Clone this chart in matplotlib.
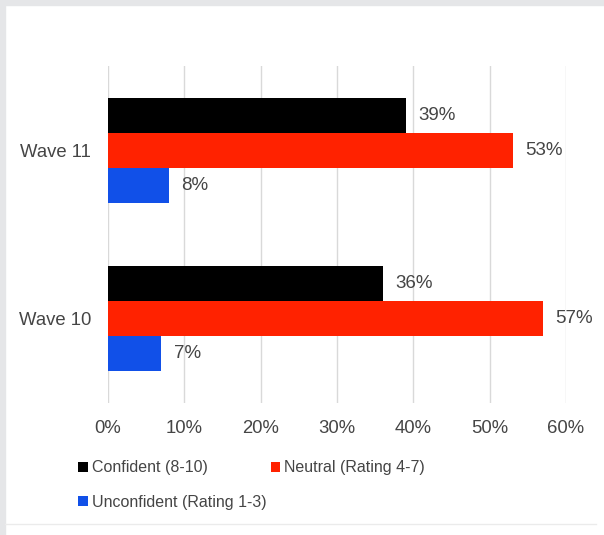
import matplotlib.pyplot as plt
import matplotlib.patches as mpatches
from matplotlib.lines import Line2D
import numpy as np

plt.rcParams["font.family"] = ["Liberation Sans", "DejaVu Sans"]

# Data
waves = ["Wave 10", "Wave 11"]
confident = [36, 39]
neutral = [57, 53]
unconfident = [7, 8]
series_names = ["Confident (8-10)", "Neutral (Rating 4-7)", "Unconfident (Rating 1-3)"]
x_ticks = [0, 10, 20, 30, 40, 50, 60]

COLORS = ["#000000", "#ff2200", "#1150e8"]
TEXT = "#454545"

fig = plt.figure(figsize=(6.04, 5.35), dpi=100)
W, H = 604, 535

# page border (gray strip left/top, faint line at bottom)
fig.patches.append(mpatches.Rectangle((0, 0), 5 / W, 1, transform=fig.transFigure,
                                      color="#e5e6e8", zorder=0))
fig.patches.append(mpatches.Rectangle((0, 1 - 5 / H), 1, 5 / H, transform=fig.transFigure,
                                      color="#e5e6e8", zorder=0))
fig.lines.append(Line2D([5 / W, 596 / W], [1 - 523.5 / H] * 2, transform=fig.transFigure,
                        color="#ebebeb", linewidth=1))

ax = fig.add_axes([108 / W, 1 - 403 / H, (566 - 108) / W, (403 - 66) / H])

y = np.arange(len(waves))
h = 0.207
for i, (vals, off) in enumerate(zip([confident, neutral, unconfident], [h, 0, -h])):
    bars = ax.barh(y + off, vals, height=h, color=COLORS[i], label=series_names[i], zorder=2)
    for b, v in zip(bars, vals):
        ax.text(v + 1.6, b.get_y() + h / 2, f"{v}%", va="center", ha="left",
                fontsize=13.5, color=TEXT)

ax.set_xlim(0, 60)
ax.set_ylim(-0.5, 1.5)
ax.set_xticks(x_ticks)
ax.set_xticklabels([f"{t}%" for t in x_ticks])
ax.set_yticks(y)
ax.set_yticklabels(waves)
ax.tick_params(length=0, labelsize=13.3, labelcolor=TEXT)
ax.tick_params(axis="x", pad=12)
ax.tick_params(axis="y", pad=12)
ax.grid(axis="x", color="#d9d9d9", linewidth=1, zorder=0)
for s in ax.spines.values():
    s.set_visible(False)

handles, labels = ax.get_legend_handles_labels()
order = [0, 2, 1]
fig.legend([handles[i] for i in order], [labels[i] for i in order],
           loc="upper left", bbox_to_anchor=(64 / W, 1 - 446 / H), ncol=2,
           frameon=False, fontsize=11.5, labelcolor=TEXT,
           handlelength=0.6, handleheight=0.6, handletextpad=0.25,
           columnspacing=0.25, labelspacing=1.2)

fig.savefig("out.png", dpi=100)
